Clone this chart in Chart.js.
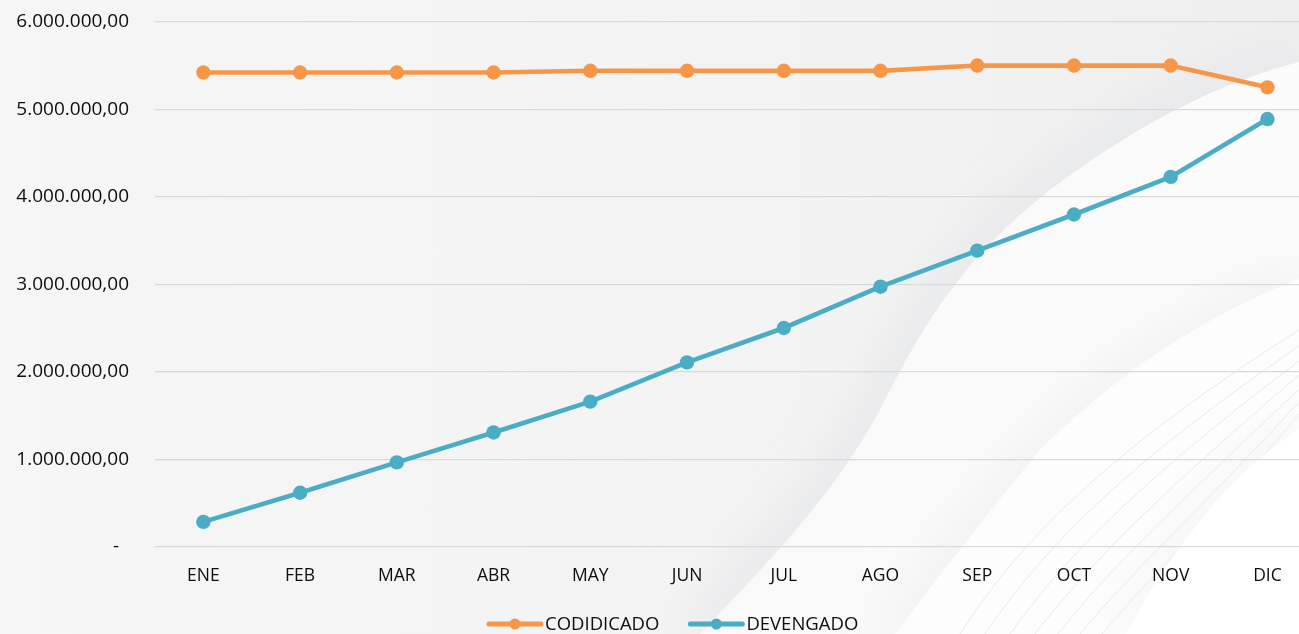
<!DOCTYPE html>
<html>
<head>
<meta charset="utf-8">
<script src="https://cdn.jsdelivr.net/npm/chart.js@4.4.0/dist/chart.umd.min.js"></script>
<style>
  html, body { margin:0; padding:0; width:1299px; height:634px; overflow:hidden; background:#f5f5f5; }
  #wrap { position:relative; width:1299px; height:634px; overflow:hidden; }
  #bgsvg { position:absolute; left:0; top:0; }
  #c { position:absolute; left:0; top:0; }
</style>
</head>
<body>
<div id="wrap">
<svg id="bgsvg" width="1299" height="634" viewBox="0 0 1299 634">
  <defs>
    <linearGradient id="bg" x1="0" y1="0" x2="1" y2="0">
      <stop offset="0" stop-color="#f6f6f6"/>
      <stop offset="0.6" stop-color="#f3f3f3"/>
      <stop offset="1" stop-color="#efeff0"/>
    </linearGradient>
    <linearGradient id="wA" x1="0" y1="1" x2="1" y2="0">
      <stop offset="0" stop-color="#f9f9f9"/>
      <stop offset="1" stop-color="#fbfbfb"/>
    </linearGradient>
    <filter id="blur" x="-50%" y="-50%" width="200%" height="200%"><feGaussianBlur stdDeviation="20"/></filter>
  </defs>
  <rect width="1299" height="634" fill="url(#bg)"/>
  <path d="M 700 634 C 770 560, 830 500, 880 410 C 920 330, 960 260, 1050 190 C 1130 130, 1210 85, 1299 62" fill="none" stroke="#e2e4e7" stroke-width="50" opacity="0.6" filter="url(#blur)"/>
  <path d="M 700 634 C 770 560, 830 500, 880 410 C 920 330, 960 260, 1050 190 C 1130 130, 1210 85, 1299 62 L 1299 634 Z" fill="url(#wA)"/>
  <path d="M 895 634 C 940 575, 990 510, 1040 450 C 1100 390, 1190 320, 1299 279" fill="none" stroke="#e9eaec" stroke-width="36" opacity="0.55" filter="url(#blur)"/>
  <path d="M 895 634 C 940 575, 990 510, 1040 450 C 1100 390, 1190 320, 1299 279 L 1299 634 Z" fill="#fdfdfd"/>
  <g fill="none" stroke="#e4e4e4" stroke-width="0.8">
    <path d="M 960 634 C 1020 540, 1110 450, 1299 330"/>
    <path d="M 985 634 C 1045 545, 1130 462, 1299 346"/>
    <path d="M 1010 634 C 1070 550, 1150 474, 1299 361"/>
    <path d="M 1035 634 C 1095 556, 1170 486, 1299 375"/>
    <path d="M 1058 634 C 1115 562, 1185 498, 1299 389"/>
    <path d="M 1080 634 C 1135 568, 1200 510, 1299 402"/>
    <path d="M 1102 634 C 1152 574, 1212 520, 1299 414"/>
  </g>
  <path d="M 1126 634 C 1160 570, 1220 480, 1299 429" fill="none" stroke="#ebebed" stroke-width="26" opacity="0.5" filter="url(#blur)"/>
  <path d="M 1126 634 C 1160 570, 1220 480, 1299 429 L 1299 634 Z" fill="#ffffff"/>
</svg>
<canvas id="c" width="1323" height="634"></canvas>
</div>
<script>
// ---- data ----
const categories = ['ENE','FEB','MAR','ABR','MAY','JUN','JUL','AGO','SEP','OCT','NOV','DIC'];
const codificado = [5423000, 5423000, 5423000, 5423000, 5442000, 5442000, 5442000, 5442000, 5502000, 5502000, 5502000, 5253000];
const devengado  = [287000, 620000, 967000, 1309000, 1662000, 2110000, 2503000, 2975000, 3387000, 3800000, 4230000, 4891000];
const seriesNames = ['CODIDICADO', 'DEVENGADO'];
const seriesColors = ['#F79646', '#4BACC6'];
const yTickMin = 0, yTickMax = 6000000, yTickStep = 1000000;

const FONT = '"Open Sans", "Noto Sans", sans-serif';

function fmt(v) {
  if (v === 0) return '-\u00a0\u00a0';
  const s = Math.round(v).toString();
  const grouped = s.replace(/\B(?=(\d{3})+(?!\d))/g, '.');
  return grouped + ',00';
}

const legendPlugin = {
  id: 'lineLegend',
  afterDraw(chart) {
    const ctx = chart.ctx;
    ctx.save();
    ctx.font = '18.5px ' + FONT;
    ctx.textBaseline = 'middle';
    ctx.textAlign = 'left';
    let x = 487;
    const y = 624;
    chart.data.datasets.forEach(ds => {
      ctx.strokeStyle = ds.borderColor;
      ctx.lineWidth = 5;
      ctx.lineCap = 'round';
      ctx.beginPath();
      ctx.moveTo(x + 2, y);
      ctx.lineTo(x + 54, y);
      ctx.stroke();
      ctx.fillStyle = ds.borderColor;
      ctx.beginPath();
      ctx.arc(x + 28, y, 5.5, 0, Math.PI * 2);
      ctx.fill();
      ctx.fillStyle = '#0d0d0d';
      ctx.fillText(ds.label, x + 58, y + 1);
      x += 58 + ctx.measureText(ds.label).width + 29;
    });
    ctx.restore();
  }
};

new Chart(document.getElementById('c'), {
  type: 'line',
  data: {
    labels: categories,
    datasets: [
      { label: seriesNames[0], data: codificado, borderColor: seriesColors[0], backgroundColor: seriesColors[0],
        pointBackgroundColor: seriesColors[0], borderWidth: 4.6, pointRadius: 7.2, pointBorderWidth: 0, tension: 0 },
      { label: seriesNames[1], data: devengado, borderColor: seriesColors[1], backgroundColor: seriesColors[1],
        pointBackgroundColor: seriesColors[1], borderWidth: 4.6, pointRadius: 7.2, pointBorderWidth: 0, tension: 0 }
    ]
  },
  options: {
    responsive: false,
    devicePixelRatio: 1,
    animation: false,
    layout: { padding: { top: 22, bottom: 39, left: 0, right: 1 } },
    plugins: { legend: { display: false }, tooltip: { enabled: false } },
    scales: {
      x: {
        offset: true,
        grid: { display: false },
        border: { display: false },
        ticks: { color: '#0d0d0d', font: { family: FONT, size: 17.5 }, padding: 11, maxRotation: 0 },
        afterFit(scale) { scale.height = 48; scale.paddingLeft = 0; scale.paddingRight = 0; }
      },
      y: {
        min: yTickMin, max: yTickMax,
        grid: { color: '#d9d9d9', lineWidth: 1.3, drawTicks: false },
        border: { display: false },
        ticks: { stepSize: yTickStep, color: '#0d0d0d', font: { family: FONT, size: 19 }, padding: 26, callback: v => fmt(v) },
        afterFit(scale) { scale.width = 155; scale.paddingTop = 0; scale.paddingBottom = 0; }
      }
    }
  },
  plugins: [legendPlugin]
});
</script>
</body>
</html>
